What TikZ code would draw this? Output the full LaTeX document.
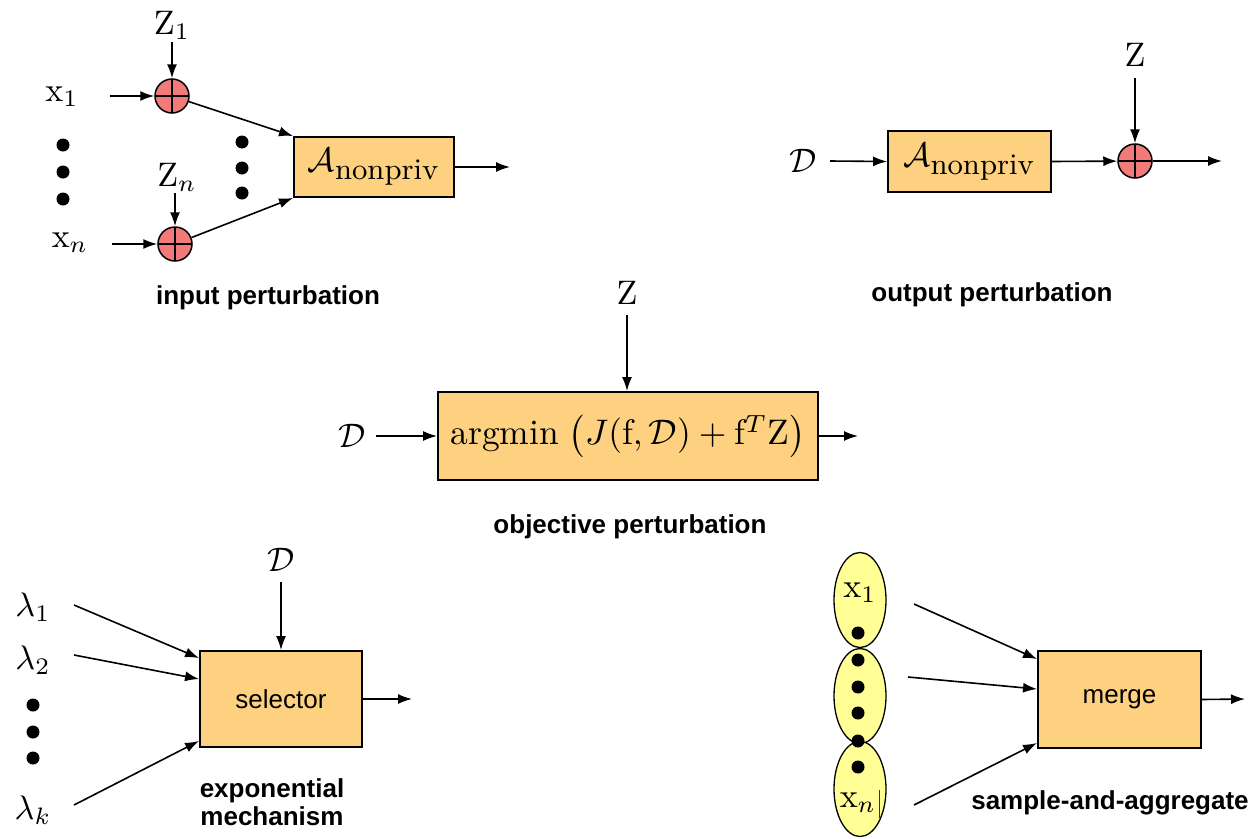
\documentclass[tikz,border=0pt]{standalone}
\usepackage{amsmath}
\usepackage{graphicx}
\usepackage{fontspec}
\setsansfont{Liberation Sans}
\usetikzlibrary{arrows.meta,shapes.geometric}
\definecolor{boxfill}{RGB}{253,209,127}
\definecolor{sumfill}{RGB}{242,122,122}
\definecolor{ellfill}{RGB}{255,255,150}
\definecolor{cursorblue}{RGB}{40,40,140}
\newcommand{\mlab}[1]{\scalebox{3.4}{$#1$}}
\newcommand{\anp}{\scalebox{3.4}{$\mathcal{A}_{\mbox{\fontsize{8.8}{10}\selectfont nonpriv}}$}}
\tikzset{
  arr/.style={line width=1.6pt,-{Latex[length=14pt,width=10pt]}},
  procbox/.style={draw,line width=1.9pt,fill=boxfill,inner sep=0pt,rectangle},
  summer/.style={circle,draw,line width=1.5pt,fill=sumfill,minimum size=34pt,inner sep=0pt,
    path picture={\draw[line width=1.5pt] (path picture bounding box.north) -- (path picture bounding box.south)
      (path picture bounding box.west) -- (path picture bounding box.east);}},
  mlbl/.style={inner sep=0pt},
  caption/.style={inner sep=0pt,font=\fontsize{26}{28}\selectfont\sffamily\bfseries,align=center},
  sel/.style={font=\fontsize{26}{28}\selectfont\sffamily},
  blob/.style={ellipse,draw,line width=1.3pt,fill=ellfill,minimum width=52pt,minimum height=95pt,inner sep=0pt},
}
\begin{document}
\begin{tikzpicture}[x=1pt,y=-1pt]
\useasboundingbox (0,0) rectangle (1250,838);

% ---------------- input perturbation ----------------
\node[mlbl] (z1) at (172,25) {\mlab{\mathrm{Z}_1}};
\node[mlbl] (zn) at (177,177) {\mlab{\mathrm{Z}_n}};
\node[mlbl] (x1) at (62,97) {\mlab{\mathrm{x}_1}};
\node[mlbl] (xn) at (70,243) {\mlab{\mathrm{x}_n}};
\node[summer] (s1) at (172,96) {};
\node[summer] (s2) at (175,244) {};
\node[procbox,minimum width=160pt,minimum height=60pt] (A1) at (374,167) {\anp};
\coordinate (z1a) at (172,42);
\coordinate (zna) at (175,193);
\coordinate (x1a) at (110,96);
\coordinate (xna) at (112,244);
\coordinate (o1) at (510,167);
\draw[arr] (z1a) -- (s1);
\draw[arr] (zna) -- (s2);
\draw[arr] (x1a) -- (s1);
\draw[arr] (xna) -- (s2);
\draw[arr] (s1) -- (A1.north west);
\draw[arr] (s2) -- (A1.south west);
\draw[arr] (A1.east) -- (o1);
\foreach \y in {145,172,199} \fill (63,\y) circle (6.5);
\foreach \y in {142,168,193} \fill (242,\y) circle (6.5);
\node[caption] (cap1) at (268,298) {input perturbation};

% ---------------- output perturbation ----------------
\node[mlbl] (d2) at (803,161) {\mlab{\mathcal{D}}};
\node[procbox,minimum width=163pt,minimum height=61pt] (A2) at (969.5,161.5) {\anp};
\node[summer] (s3) at (1135,161) {};
\node[mlbl] (z2) at (1135,55) {\mlab{\mathrm{Z}}};
\coordinate (d2a) at (830,161);
\coordinate (z2a) at (1135,78);
\coordinate (o2) at (1222,161);
\draw[arr] (d2a) -- (A2.west);
\draw[arr] (A2.east) -- (s3);
\draw[arr] (z2a) -- (s3);
\draw[arr] (s3) -- (o2);
\node[caption] (cap2) at (992,295) {output perturbation};

% ---------------- objective perturbation ----------------
\node[mlbl] (z3) at (627,293) {\mlab{\mathrm{Z}}};
\node[procbox,minimum width=380pt,minimum height=88pt] (ob) at (628,436) {\scalebox{3.55}{$\mathrm{argmin}\;\bigl(J(\mathrm{f},\mathcal{D})+\mathrm{f}^T\mathrm{Z}\bigr)$}};
\node[mlbl] (d3) at (352,436) {\mlab{\mathcal{D}}};
\coordinate (z3a) at (627,315);
\coordinate (d3a) at (376,436);
\coordinate (o3) at (858,436);
\draw[arr] (z3a) -- (z3a |- ob.north);
\draw[arr] (d3a) -- (ob.west);
\draw[arr] (ob.east) -- (o3);
\node[caption] (cap3) at (630,527) {objective perturbation};

% ---------------- exponential mechanism ----------------
\node[procbox,minimum width=162pt,minimum height=96pt,sel] (sl) at (281,699) {selector};
\node[mlbl] (d4) at (281,560) {\mlab{\mathcal{D}}};
\node[mlbl] (l1) at (33,607) {\mlab{\lambda_1}};
\node[mlbl] (l2) at (33,660) {\mlab{\lambda_2}};
\node[mlbl] (lk) at (33,810) {\mlab{\lambda_k}};
\coordinate (d4a) at (281,582);
\coordinate (l1a) at (74,605);
\coordinate (l2a) at (74,655);
\coordinate (lka) at (74,805);
\coordinate (o4) at (412,699);
\draw[arr] (d4a) -- (sl.north);
\draw[arr] (l1a) -- ([yshift=-8pt]sl.north west);
\draw[arr] (l2a) -- ([yshift=-29pt]sl.north west);
\draw[arr] (lka) -- ([yshift=7pt]sl.south west);
\draw[arr] (sl.east) -- (o4);
\foreach \y in {705,732,758} \fill (33,\y) circle (6.5);
\node[caption] (cap4) at (272,802) {exponential\\mechanism};

% ---------------- sample-and-aggregate ----------------
\node[blob] (e1) at (860,600) {};
\node[blob] (e2) at (860,696) {};
\node[blob] (e3) at (860,789) {};
\node[mlbl] (sx1) at (860,593) {\mlab{\mathrm{x}_1}};
\node[mlbl] (sxn) at (858,803) {\mlab{\mathrm{x}_n}};
\draw[cursorblue,line width=1pt] (879,790) -- (879,818);
\foreach \y in {633,660,687,713,741,767} \fill (858,\y) circle (6.5);
\node[procbox,minimum width=163pt,minimum height=97pt,sel] (mg) at (1119.5,699.5) {merge};
\coordinate (m1a) at (914,604);
\coordinate (m2a) at (908,677);
\coordinate (m3a) at (914,805);
\coordinate (o5) at (1245,699);
\draw[arr] (m1a) -- ([yshift=-9pt]mg.north west);
\draw[arr] (m2a) -- ([yshift=-39pt]mg.north west);
\draw[arr] (m3a) -- ([yshift=6pt]mg.south west);
\draw[arr] (mg.east) -- (o5);
\node[caption] (cap5) at (1110,803) {sample-and-aggregate};
\end{tikzpicture}
\end{document}
